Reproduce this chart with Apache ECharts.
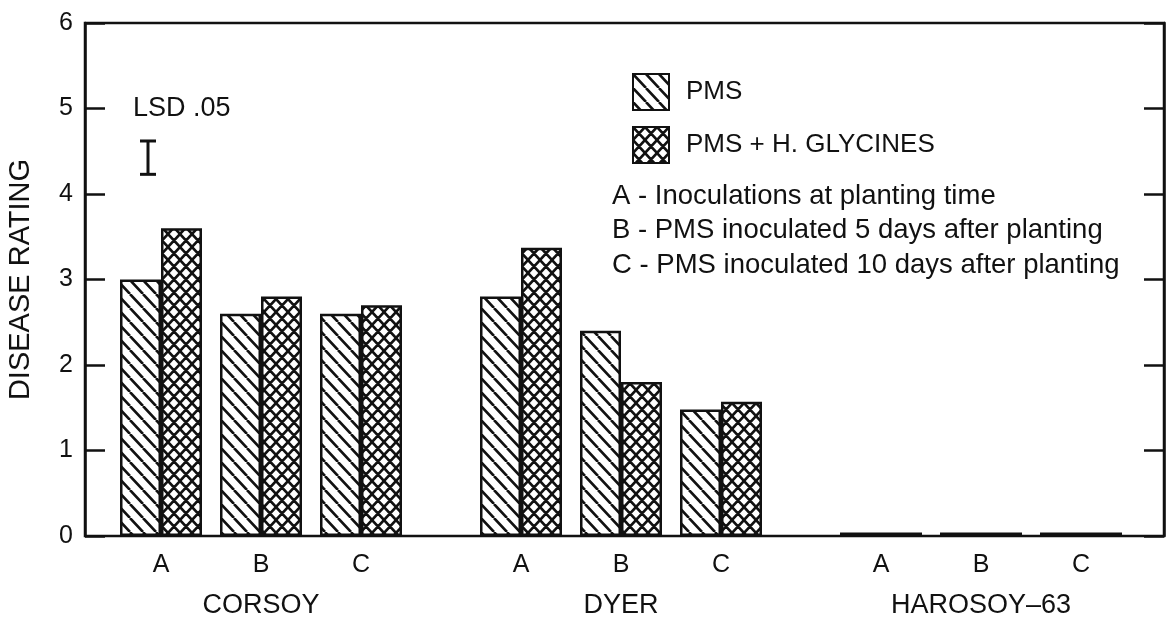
<!DOCTYPE html>
<html>
<head>
<meta charset="utf-8">
<script src="https://cdn.jsdelivr.net/npm/echarts@6/dist/echarts.min.js"></script>
<style>
html,body{margin:0;padding:0;background:#fff;}
#chart{width:1166px;height:619px;}
</style>
</head>
<body>
<div id="chart"></div>
<script>
// ---- data ----
const groups = ['CORSOY', 'DYER', 'HAROSOY\u201363'];
const treatments = ['A', 'B', 'C'];
const pmsValues = [3.0, 2.6, 2.6, 2.8, 2.4, 1.48, 0.04, 0.04, 0.04];
const pmsHgValues = [3.6, 2.8, 2.7, 3.37, 1.8, 1.57, 0.04, 0.04, 0.04];
const seriesNames = ['PMS', 'PMS + H. GLYCINES'];
const yTicks = [0, 1, 2, 3, 4, 5, 6];
const lsdLabel = 'LSD .05';
const lsdRange = [4.23, 4.62];
const notes = [
  'A - Inoculations at planting time',
  'B - PMS inoculated 5 days after planting',
  'C - PMS inoculated 10 days after planting'
];
const yTitle = 'DISEASE RATING';

// ---- layout helpers ----
const GROUP_STRIDE = 3.6;
const X_MIN = -0.76, X_MAX = 10.03;
const pos = (g, i) => +(g * GROUP_STRIDE + i).toFixed(3);
const barX = [];
const labelMap = {};
groups.forEach((gName, g) => treatments.forEach((t, i) => {
  const p = pos(g, i); barX.push(p); labelMap[p.toFixed(3)] = t;
}));
const groupCenters = groups.map((_, g) => pos(g, 1));
const groupMap = {};
groupCenters.forEach((p, g) => groupMap[p.toFixed(3)] = groups[g]);

function makePattern(w, h, cross) {
  const c = document.createElement('canvas');
  c.width = w; c.height = h;
  const g = c.getContext('2d');
  g.fillStyle = '#fff'; g.fillRect(0, 0, w, h);
  g.strokeStyle = '#111'; g.lineWidth = 2.6;
  g.beginPath();
  for (const o of [-w, 0, w]) {
    g.moveTo(o, 0); g.lineTo(o + w, h);
    if (cross) { g.moveTo(o, h); g.lineTo(o + w, 0); }
  }
  g.stroke();
  return { image: c, repeat: 'repeat' };
}
const hatch = makePattern(13, 14, false);
const crossHatch = makePattern(12, 13, true);

const FONT = '"Liberation Sans", Arial, sans-serif';
const INK = '#111';

const chart = echarts.init(document.getElementById('chart'), null, { renderer: 'canvas' });

const yAxisBase = {
  type: 'value', min: 0, max: 6, interval: 1,
  splitLine: { show: false },
  axisLine: { show: true, onZero: false, lineStyle: { color: INK, width: 2.5 } },
  axisTick: { show: true, inside: true, length: 20, lineStyle: { color: INK, width: 2.5 } }
};

const option = {
  backgroundColor: '#fff',
  animation: false,
  textStyle: { fontFamily: FONT, color: INK },
  grid: {
    left: 85, right: 2, top: 23, bottom: 83,
    outerBoundsMode: 'none', containLabel: false,
    show: true, borderColor: INK, borderWidth: 2.5, backgroundColor: 'transparent'
  },
  legend: {
    orient: 'vertical', left: 627, top: 68, itemWidth: 36, itemHeight: 36, itemGap: 15,
    icon: 'rect',
    data: seriesNames,
    textStyle: { fontSize: 26, color: INK, fontFamily: FONT, padding: [0, 0, 0, 12] }
  },
  xAxis: [{
    type: 'value', min: X_MIN, max: X_MAX,
    splitLine: { show: false },
    axisLine: { show: false },
    axisTick: { show: false },
    axisLabel: {
      customValues: barX, fontSize: 25, color: INK, margin: 17,
      formatter: v => labelMap[(+v).toFixed(3)] || ''
    }
  }, {
    type: 'value', min: X_MIN, max: X_MAX, position: 'bottom', offset: 39,
    splitLine: { show: false },
    axisLine: { show: false },
    axisTick: { show: false },
    axisLabel: {
      customValues: groupCenters, fontSize: 27, color: INK, margin: 17,
      formatter: v => groupMap[(+v).toFixed(3)] || ''
    }
  }],
  yAxis: [Object.assign({}, yAxisBase, {
    position: 'left',
    name: yTitle, nameLocation: 'middle', nameGap: 50,
    nameTextStyle: { fontSize: 29, color: INK, fontFamily: FONT },
    axisLabel: { fontSize: 25, color: INK, margin: 12, formatter: v => yTicks.includes(v) ? String(v) : '' }
  }), Object.assign({}, yAxisBase, {
    position: 'right',
    axisLabel: { show: false }
  })],
  graphic: [{
    type: 'text', left: 133, top: 95,
    style: { text: lsdLabel, fontSize: 27, fontFamily: FONT, fill: INK }
  }].concat(notes.map((t, i) => ({
    type: 'text', left: 612, top: 182 + i * 34.5,
    style: { text: t, fontSize: 27.5, fontFamily: FONT, fill: INK }
  }))),
  series: [{
    name: seriesNames[0], type: 'bar', xAxisIndex: 0, yAxisIndex: 0,
    barWidth: 41, barGap: '0%',
    data: barX.map((x, i) => [x, pmsValues[i]]),
    itemStyle: { color: hatch, borderColor: INK, borderWidth: 2.5 }
  }, {
    name: seriesNames[1], type: 'bar', xAxisIndex: 0, yAxisIndex: 0,
    barWidth: 41, barGap: '0%',
    data: barX.map((x, i) => [x, pmsHgValues[i]]),
    itemStyle: { color: crossHatch, borderColor: INK, borderWidth: 2.5 }
  }, {
    name: 'LSD', type: 'custom', xAxisIndex: 0, yAxisIndex: 0,
    data: [[-0.13, lsdRange[0], lsdRange[1]]],
    renderItem: (params, api) => {
      const lo = api.coord([api.value(0), api.value(1)]);
      const hi = api.coord([api.value(0), api.value(2)]);
      const hw = 8;
      return {
        type: 'group', children: [
          { type: 'line', shape: { x1: lo[0], y1: lo[1], x2: hi[0], y2: hi[1] }, style: { stroke: INK, lineWidth: 3 } },
          { type: 'line', shape: { x1: lo[0] - hw, y1: lo[1], x2: lo[0] + hw, y2: lo[1] }, style: { stroke: INK, lineWidth: 3 } },
          { type: 'line', shape: { x1: hi[0] - hw, y1: hi[1], x2: hi[0] + hw, y2: hi[1] }, style: { stroke: INK, lineWidth: 3 } }
        ]
      };
    },
    silent: true
  }]
};
chart.setOption(option);
</script>
</body>
</html>
